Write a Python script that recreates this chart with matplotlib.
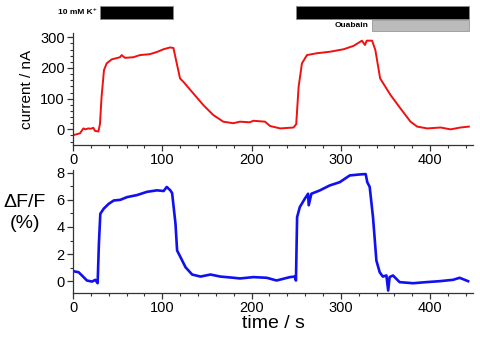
import matplotlib
matplotlib.use("Agg")
import matplotlib.pyplot as plt
from matplotlib.ticker import MultipleLocator
import matplotlib.transforms as mtransforms

plt.rcParams['font.family'] = ['Liberation Sans', 'DejaVu Sans']

# ---- data ----
t_current = [0, 4, 7.8, 11.6, 14, 17.2, 20, 22.8, 24.6, 28.4, 30.2, 32, 34.7, 37.7, 43.3, 52.6, 54.5,
             58.2, 67.5, 74.9, 86, 93.8, 101.3, 108.8, 112.5, 116.2, 119.9, 123.6, 134.8, 146, 157,
             168.3, 179.5, 187, 198, 202, 215, 220.7, 232, 247, 250, 252.7, 256.4, 262, 273, 288,
             303, 314.2, 323.6, 327, 329, 335, 338.6, 344, 355.6, 366.8, 378, 385.5, 396.7, 411.7,
             422.9, 434, 443.4]
current = [-19, -16, -13, 3, 0, 3, 2, 5, -5, -7, 17, 106, 193, 215, 228, 235, 242,
           233, 235, 242, 245, 252, 261, 267, 265, 215, 166, 155, 117, 79, 47,
           25, 20, 25, 23, 28, 25, 11, 3, 6, 17, 139, 215, 242, 248, 253,
           261, 272, 289, 275, 289, 289, 259, 166, 112, 68, 25, 9, 3, 6,
           0, 6, 9]

t_dff = [0, 6.3, 10, 15.6, 21.3, 25, 27.6, 29, 30.6, 34.3, 39.9, 45.6, 53, 60.5, 71.7, 82.9, 94,
         101.5, 105, 109, 111, 114.8, 116.6, 120.4, 126, 133.4, 142.8, 154, 165, 180, 187, 202,
         217, 228, 243, 248.5, 249.7, 251, 254, 259.6, 263.3, 264, 267, 276.3, 287.5, 298.7, 310,
         321, 327.8, 329.6, 332.3, 336, 339.8, 343.5, 347, 351, 353, 354.6, 358.4, 365.8, 380.8,
         395.8, 410.7, 425.7, 433, 442.5]
dff = [0.74, 0.66, 0.42, 0.05, -0.03, 0.1, -0.15, 2.76, 4.97, 5.34, 5.7, 5.95, 6.0, 6.2, 6.35, 6.59, 6.7,
       6.65, 6.95, 6.7, 6.5, 4.23, 2.26, 1.77, 1.03, 0.49, 0.34, 0.49, 0.34, 0.25, 0.2, 0.3,
       0.25, 0.05, 0.3, 0.34, 0.05, 4.72, 5.46, 6.08, 6.45, 5.6, 6.45, 6.69, 7.06, 7.3, 7.8,
       7.87, 7.9, 7.3, 6.95, 4.72, 1.52, 0.66, 0.34, 0.42, -0.69, 0.3, 0.42, -0.07, -0.15,
       -0.07, 0.0, 0.1, 0.25, 0.0]

k_periods = [(30, 112), (250, 444)]
ouabain_period = (335, 444)
x_ticks = [0, 100, 200, 300, 400]

W, H = 480, 343
fig = plt.figure(figsize=(W / 100, H / 100), dpi=100)

ax1 = fig.add_axes([73 / W, 1 - 145 / H, 400 / W, 112 / H])
ax2 = fig.add_axes([73 / W, 1 - 292.7 / H, 400 / W, 122.7 / H])

ax1.plot(t_current, current, color='#f01010', lw=1.4)
ax2.plot(t_dff, dff, color='#1010f0', lw=1.9)

for ax in (ax1, ax2):
    ax.set_xlim(0, 448)
    ax.set_xticks(x_ticks)
    ax.xaxis.set_minor_locator(MultipleLocator(20))
    ax.spines['top'].set_visible(False)
    ax.spines['right'].set_visible(False)
    for s in ('left', 'bottom'):
        ax.spines[s].set_linewidth(0.9)
        ax.spines[s].set_color('#333333')
    ax.tick_params(which='major', direction='out', length=4, width=0.9, labelsize=10.5,
                   colors='#333333', labelcolor='black', pad=2)
    ax.tick_params(which='minor', direction='out', length=2.5, width=0.8, colors='#333333')
    ax.patch.set_alpha(0)

ax1.set_ylim(-51, 314)
ax1.set_yticks([0, 100, 200, 300])
ax1.yaxis.set_minor_locator(MultipleLocator(20))
ax1.set_ylabel('current / nA', fontsize=11, labelpad=4)

ax2.set_ylim(-0.85, 8.2)
ax2.set_yticks([0, 2, 4, 6, 8])
ax2.yaxis.set_minor_locator(MultipleLocator(1))
ax2.set_xlabel('time / s', fontsize=14, labelpad=0)
fig.text(25 / W, 1 - 213 / H, 'ΔF/F\n(%)', fontsize=14, ha='center', va='center',
         linespacing=1.25)

# stimulus bars (x in data, y in figure fraction)
trans = mtransforms.blended_transform_factory(ax1.transData, fig.transFigure)
for (a, b) in k_periods:
    ax1.add_patch(plt.Rectangle((a, 1 - 19 / H), b - a, 13.3 / H, transform=trans,
                                facecolor='black', edgecolor='#888888', lw=0.6, clip_on=False))
oa, ob = ouabain_period
ax1.add_patch(plt.Rectangle((oa, 1 - 31 / H), ob - oa, 11 / H, transform=trans,
                            facecolor='#bbbbbb', edgecolor='#999999', lw=0.6, clip_on=False))
ax1.text(27, 1 - 12.5 / H, '10 mM K⁺', transform=trans, fontsize=6, fontweight='bold',
         ha='right', va='center')
ax1.text(331, 1 - 25.5 / H, 'Ouabain', transform=trans, fontsize=6, fontweight='bold',
         ha='right', va='center')

fig.savefig('out.png', dpi=100)
